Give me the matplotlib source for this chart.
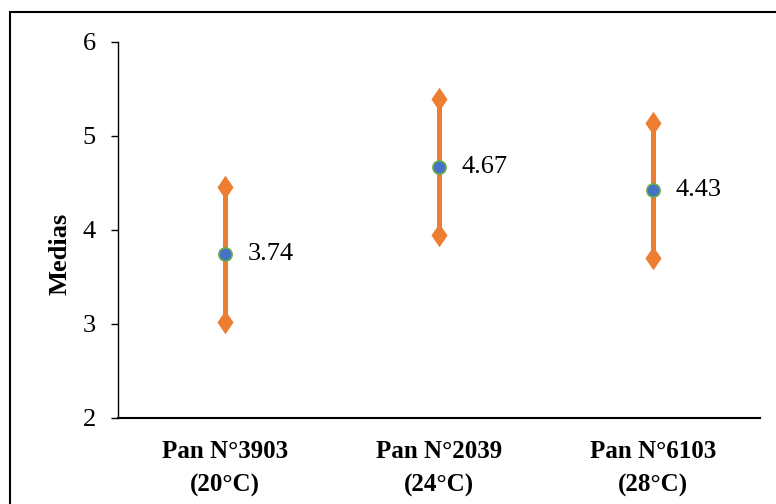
import matplotlib
matplotlib.use("Agg")
import matplotlib.pyplot as plt
from matplotlib.path import Path
from matplotlib.patches import Rectangle

plt.rcParams['font.family'] = ['Liberation Serif', 'DejaVu Serif']

categories = ["Pan N°3903\n(20°C)", "Pan N°2039\n(24°C)", "Pan N°6103\n(28°C)"]
means = [3.74, 4.67, 4.43]
upper = [4.46, 5.39, 5.14]
lower = [3.02, 3.95, 3.70]

orange = "#ED7D31"
blue = "#4472C4"
green = "#70AD47"

diamond = Path([(0, 1), (0.68, 0), (0, -1), (-0.68, 0), (0, 1)],
               [Path.MOVETO, Path.LINETO, Path.LINETO, Path.LINETO, Path.CLOSEPOLY])

fig = plt.figure(figsize=(7.76, 5.04), dpi=100)
ax = fig.add_axes([118 / 776, 86 / 504, 642 / 776, 376 / 504])

xs = range(len(categories))
for x, m, lo, hi in zip(xs, means, lower, upper):
    ax.plot([x, x], [lo, hi], color=orange, lw=3.6, solid_capstyle='butt', zorder=2)
    ax.plot([x, x], [lo, hi], linestyle='none', marker=diamond, markersize=17,
            color=orange, markeredgewidth=0, zorder=3)
    ax.plot(x, m, marker='o', markersize=9.5, markerfacecolor=blue,
            markeredgecolor=green, markeredgewidth=1.2, zorder=4)
    ax.annotate(f"{m:.2f}", (x, m), xytext=(16.5, 0), textcoords='offset points',
                ha='left', va='center', fontsize=19)

ax.set_xlim(-0.5, len(categories) - 0.5)
ax.set_ylim(2, 6)
ax.set_yticks([2, 3, 4, 5, 6])
ax.set_xticks(list(xs))
ax.set_xticklabels(categories, fontsize=18, fontweight='bold', linespacing=1.55)
ax.tick_params(axis='x', length=0, pad=16)
ax.tick_params(axis='y', direction='out', length=5, width=1, labelsize=19, pad=11)
ax.set_ylabel("Medias", fontsize=19, fontweight='bold', labelpad=8, y=0.436)

for side in ('top', 'right'):
    ax.spines[side].set_visible(False)
ax.spines['left'].set_linewidth(1.0)
ax.spines['bottom'].set_linewidth(1.5)

# outer frame around the chart area
frame = Rectangle((10 / 776, -0.05), 1.0, (504 - 12) / 504 + 0.05,
                  transform=fig.transFigure, fill=False, edgecolor='black',
                  linewidth=1.5, clip_on=False)
fig.patches.append(frame)

fig.savefig("out.png", dpi=100)
